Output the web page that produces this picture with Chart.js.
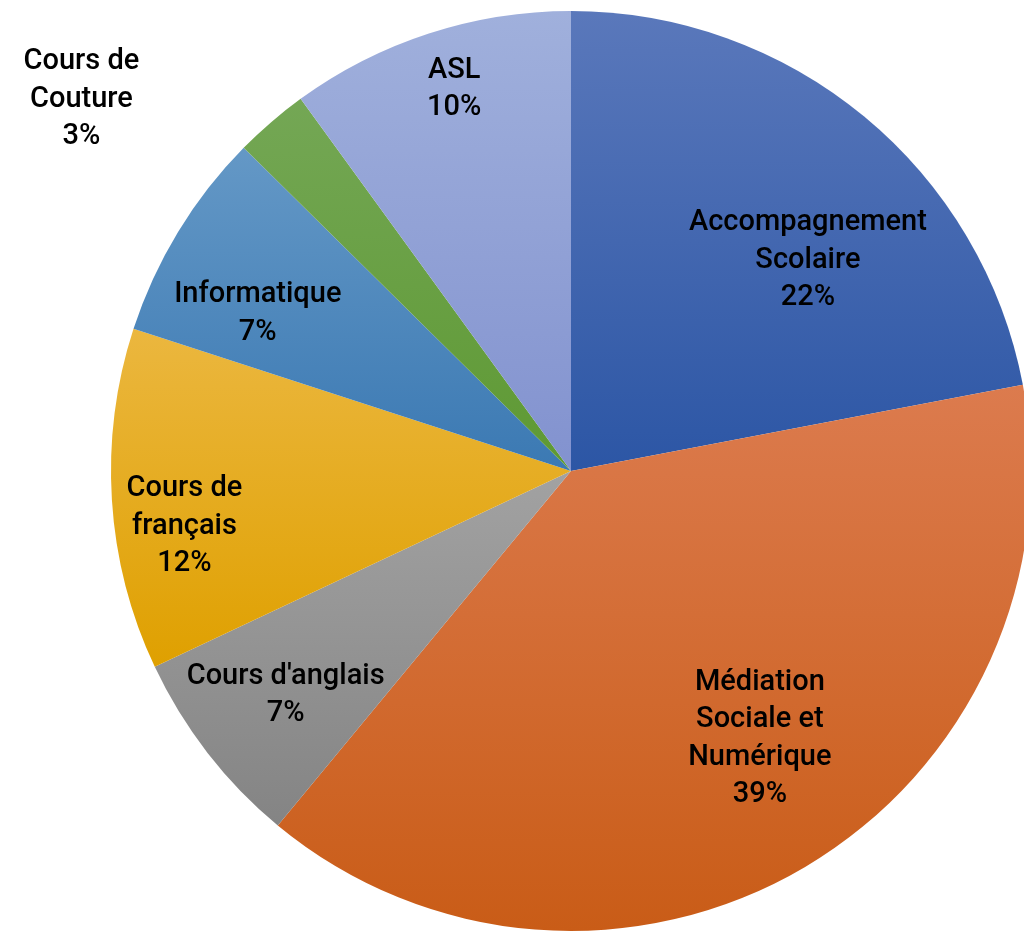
<!DOCTYPE html>
<html>
<head>
<meta charset="utf-8">
<script src="https://cdn.jsdelivr.net/npm/chart.js@4/dist/chart.umd.min.js"></script>
<style>
  html, body { margin: 0; padding: 0; background: #fff; overflow: hidden; }
  #wrap { width: 1024px; height: 932px; overflow: hidden; position: relative; }
  canvas { position: absolute; left: 0; top: 0; }
</style>
</head>
<body>
<div id="wrap"><canvas id="pieChart" width="1142" height="942"></canvas></div>
<script>
const labels = [
  ["Accompagnement", "Scolaire"],
  ["Médiation", "Sociale et", "Numérique"],
  ["Cours d'anglais"],
  ["Cours de", "français"],
  ["Informatique"],
  ["Cours de", "Couture"],
  ["ASL"]
];
const values = [22, 39, 7, 12, 7.4, 2.6, 10];

const topColors = ["#5a78bb", "#dc7b4e", "#a2a2a2", "#ebb73f", "#6498c6", "#74a755", "#a0b0dc"];
const bottomColors = ["#2c56a5", "#c95c17", "#848484", "#dfa000", "#3b79b3", "#5e9933", "#8292cf"];

// label placement: [angle shift in degrees, radius factor]
const labelPlace = [[8.4, 0.693], [-4.9, 0.707], [0, 0.785], [-4.1, 0.848], [-4.2, 0.765], [-11.9, 1.34], [1.1, 0.874]];

const total = values.reduce((a, b) => a + b, 0);

function sliceAngles(i) {
  let start = 0;
  for (let k = 0; k < i; k++) start += values[k];
  return [start / total * Math.PI * 2, (start + values[i]) / total * Math.PI * 2];
}

function fillFor(ctx) {
  const i = ctx.dataIndex;
  const area = ctx.chart.chartArea;
  if (!area) return topColors[i];
  const cx = (area.left + area.right) / 2;
  const cy = (area.top + area.bottom) / 2;
  const r = Math.min(area.right - area.left, area.bottom - area.top) / 2;
  const [a0, a1] = sliceAngles(i);
  let yMin = cy, yMax = cy;
  for (let a = a0; a <= a1 + 1e-9; a += (a1 - a0) / 60) {
    const y = cy - r * Math.cos(a);
    yMin = Math.min(yMin, y);
    yMax = Math.max(yMax, y);
  }
  const g = ctx.chart.ctx.createLinearGradient(0, yMin, 0, yMax);
  g.addColorStop(0, topColors[i]);
  g.addColorStop(1, bottomColors[i]);
  return g;
}

const pieLabels = {
  id: "pieLabels",
  afterDatasetsDraw(chart) {
    const ctx = chart.ctx;
    const meta = chart.getDatasetMeta(0);
    ctx.save();
    ctx.font = "500 29px Roboto";
    ctx.fillStyle = "#000";
    ctx.textAlign = "center";
    ctx.textBaseline = "middle";
    meta.data.forEach((arc, i) => {
      const mid = (arc.startAngle + arc.endAngle) / 2 + labelPlace[i][0] * Math.PI / 180;
      const rr = arc.outerRadius * labelPlace[i][1];
      const x = arc.x + rr * Math.cos(mid);
      const y = arc.y + rr * Math.sin(mid) + 3;
      const lines = labels[i].concat([Math.round(values[i] / total * 100) + "%"]);
      const lh = 37.5;
      lines.forEach((t, k) => {
        ctx.fillText(t, x, y + (k - (lines.length - 1) / 2) * lh);
      });
    });
    ctx.restore();
  }
};

new Chart(document.getElementById("pieChart"), {
  type: "pie",
  data: {
    labels: labels.map(l => l.join(" ")),
    datasets: [{
      data: values,
      backgroundColor: fillFor,
      borderWidth: 0,
      hoverOffset: 0
    }]
  },
  options: {
    responsive: false,
    animation: false,
    layout: { padding: 11 },
    plugins: {
      legend: { display: false },
      tooltip: { enabled: false }
    }
  },
  plugins: [pieLabels]
});
</script>
</body>
</html>
